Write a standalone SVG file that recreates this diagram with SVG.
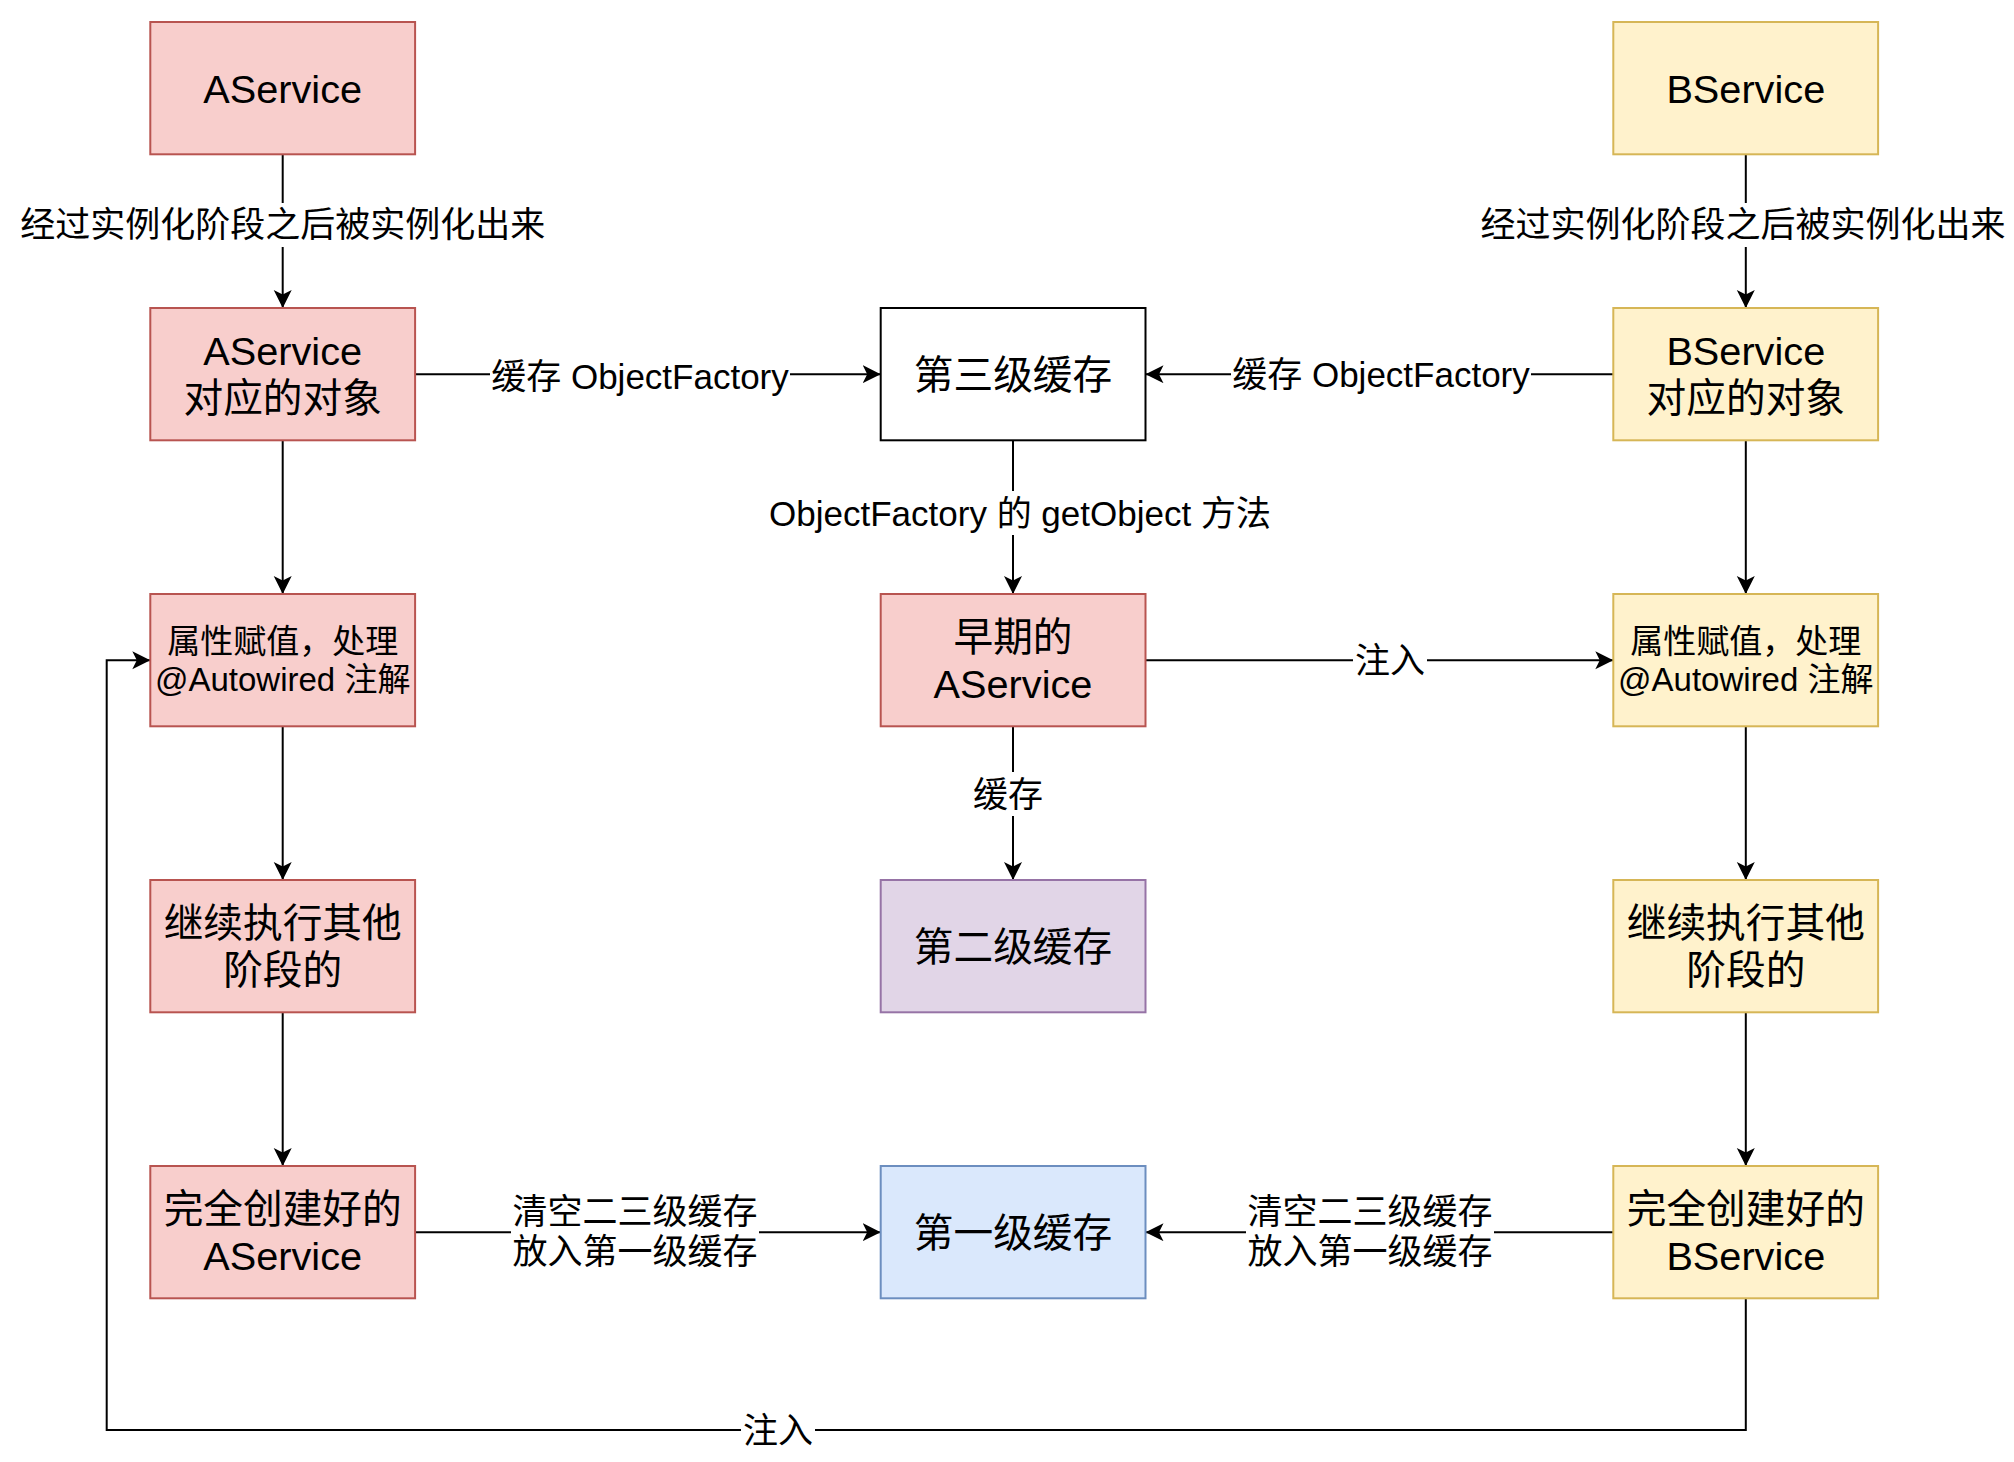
<svg xmlns="http://www.w3.org/2000/svg" width="2014" height="1462" viewBox="0 0 2014 1462">
<style>
text{font-family:"Liberation Sans","Noto Sans CJK SC",sans-serif;fill:#000;text-anchor:middle}
.big{font-size:39.7px}
.small{font-size:33px}
.lbl{font-size:35px}
.red{fill:#f8cecc;stroke:#b85450;stroke-width:2}
.yel{fill:#fff2cc;stroke:#d6b656;stroke-width:2}
.pur{fill:#e1d5e7;stroke:#9673a6;stroke-width:2}
.blu{fill:#dae8fc;stroke:#6c8ebf;stroke-width:2}
.wht{fill:#ffffff;stroke:#000000;stroke-width:2}
.edge{fill:none;stroke:#000;stroke-width:2}
.bg{fill:#ffffff;stroke:none}
</style>
<defs>
<marker id="arr" markerUnits="userSpaceOnUse" markerWidth="20" markerHeight="20" refX="18" refY="9" orient="auto" viewBox="0 0 20 20">
<path d="M0,0 L18,9 L0,18 L4.5,9 Z" fill="#000"/>
</marker>
</defs>
<rect width="2014" height="1462" fill="#ffffff"/>

<g id="connectors">
<path class="edge" d="M282.7,154.3 V308" marker-end="url(#arr)"/>
<path class="edge" d="M1745.8,154.3 V308" marker-end="url(#arr)"/>
<path class="edge" d="M415.1,374.2 H880.7" marker-end="url(#arr)"/>
<path class="edge" d="M1613.3,374.2 H1145.5" marker-end="url(#arr)"/>
<path class="edge" d="M282.7,440.3 V594" marker-end="url(#arr)"/>
<path class="edge" d="M1013,440.3 V594" marker-end="url(#arr)"/>
<path class="edge" d="M1745.8,440.3 V594" marker-end="url(#arr)"/>
<path class="edge" d="M1145.5,660.2 H1613.3" marker-end="url(#arr)"/>
<path class="edge" d="M1013,726.3 V880" marker-end="url(#arr)"/>
<path class="edge" d="M282.7,726.3 V880" marker-end="url(#arr)"/>
<path class="edge" d="M1745.8,726.3 V880" marker-end="url(#arr)"/>
<path class="edge" d="M282.7,1012.3 V1166" marker-end="url(#arr)"/>
<path class="edge" d="M1745.8,1012.3 V1166" marker-end="url(#arr)"/>
<path class="edge" d="M415.1,1232.2 H880.7" marker-end="url(#arr)"/>
<path class="edge" d="M1613.3,1232.2 H1145.5" marker-end="url(#arr)"/>
<path class="edge" d="M1745.8,1298.3 V1430 H106.7 V660.2 H150.3" marker-end="url(#arr)"/>

<rect class="bg" x="18" y="203" width="530" height="44"/>
<text class="lbl" x="282.7" y="237.4">经过实例化阶段之后被实例化出来</text>
<rect class="bg" x="1478" y="203" width="530" height="44"/>
<text class="lbl" x="1743" y="237.4">经过实例化阶段之后被实例化出来</text>
<rect class="bg" x="490" y="354" width="300" height="44"/>
<text class="lbl" x="640" y="388.6">缓存 ObjectFactory</text>
<rect class="bg" x="1231" y="352" width="300" height="44"/>
<text class="lbl" x="1381" y="386.6">缓存 ObjectFactory</text>
<rect class="bg" x="767" y="491" width="506" height="44"/>
<text class="lbl" x="1020" y="525.6">ObjectFactory 的 getObject 方法</text>
<rect class="bg" x="971" y="772" width="74" height="44"/>
<text class="lbl" x="1008" y="806.6">缓存</text>
<rect class="bg" x="1353" y="638" width="74" height="44"/>
<text class="lbl" x="1390" y="672.6">注入</text>
<rect class="bg" x="511" y="1190" width="248" height="84"/>
<text class="lbl" x="635" y="1224.3">清空二三级缓存</text>
<text class="lbl" x="635" y="1264.3">放入第一级缓存</text>
<rect class="bg" x="1246" y="1190" width="248" height="84"/>
<text class="lbl" x="1370" y="1224.3">清空二三级缓存</text>
<text class="lbl" x="1370" y="1264.3">放入第一级缓存</text>
<rect class="bg" x="741" y="1408" width="74" height="44"/>
<text class="lbl" x="778" y="1442.6">注入</text>
</g>

<g id="a1"><rect class="red" x="150.3" y="22" width="264.8" height="132.3"/><text class="big" x="282.7" y="102.5">AService</text></g>
<g id="a2"><rect class="red" x="150.3" y="308" width="264.8" height="132.3"/><text class="big" x="282.7" y="364.6">AService</text><text class="big" x="282.7" y="412.2">对应的对象</text></g>
<g id="a3"><rect class="red" x="150.3" y="594" width="264.8" height="132.3"/><text class="small" x="282.7" y="652.7">属性赋值，处理</text><text class="small" x="282.7" y="691.3">@Autowired 注解</text></g>
<g id="a4"><rect class="red" x="150.3" y="880" width="264.8" height="132.3"/><text class="big" x="282.7" y="936.6">继续执行其他</text><text class="big" x="282.7" y="984.2">阶段的</text></g>
<g id="a5"><rect class="red" x="150.3" y="1166" width="264.8" height="132.3"/><text class="big" x="282.7" y="1222.6">完全创建好的</text><text class="big" x="282.7" y="1270.2">AService</text></g>

<g id="cache3"><rect class="wht" x="880.7" y="308" width="264.8" height="132.3"/><text class="big" x="1013" y="388.5">第三级缓存</text></g>
<g id="early"><rect class="red" x="880.7" y="594" width="264.8" height="132.3"/><text class="big" x="1013" y="650.6">早期的</text><text class="big" x="1013" y="698.2">AService</text></g>
<g id="cache2"><rect class="pur" x="880.7" y="880" width="264.8" height="132.3"/><text class="big" x="1013" y="960.5">第二级缓存</text></g>
<g id="cache1"><rect class="blu" x="880.7" y="1166" width="264.8" height="132.3"/><text class="big" x="1013" y="1246.5">第一级缓存</text></g>

<g id="b1"><rect class="yel" x="1613.3" y="22" width="264.8" height="132.3"/><text class="big" x="1745.8" y="102.5">BService</text></g>
<g id="b2"><rect class="yel" x="1613.3" y="308" width="264.8" height="132.3"/><text class="big" x="1745.8" y="364.6">BService</text><text class="big" x="1745.8" y="412.2">对应的对象</text></g>
<g id="b3"><rect class="yel" x="1613.3" y="594" width="264.8" height="132.3"/><text class="small" x="1745.8" y="652.7">属性赋值，处理</text><text class="small" x="1745.8" y="691.3">@Autowired 注解</text></g>
<g id="b4"><rect class="yel" x="1613.3" y="880" width="264.8" height="132.3"/><text class="big" x="1745.8" y="936.6">继续执行其他</text><text class="big" x="1745.8" y="984.2">阶段的</text></g>
<g id="b5"><rect class="yel" x="1613.3" y="1166" width="264.8" height="132.3"/><text class="big" x="1745.8" y="1222.6">完全创建好的</text><text class="big" x="1745.8" y="1270.2">BService</text></g>
</svg>
